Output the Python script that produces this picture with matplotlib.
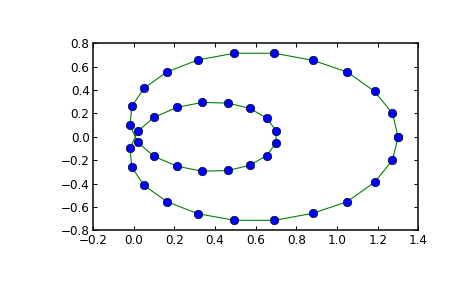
import matplotlib
matplotlib.use("Agg")
import matplotlib.pyplot as plt

# points, in order along the curve
x = [1.300, 1.272, 1.184, 1.050, 0.880, 0.692, 0.495, 0.315, 0.163, 0.050,
     -0.009, -0.018, 0.021, 0.099, 0.212, 0.337, 0.464, 0.571, 0.654, 0.700,
     0.700, 0.654, 0.571, 0.464, 0.337, 0.212, 0.099, 0.021, -0.018, -0.009,
     0.050, 0.163, 0.315, 0.495, 0.692, 0.880, 1.050, 1.184, 1.272, 1.300]
y = [0.000, 0.200, 0.388, 0.554, 0.654, 0.714, 0.714, 0.657, 0.554, 0.414,
     0.260, 0.097, -0.048, -0.166, -0.251, -0.294, -0.288, -0.243, -0.160, -0.051,
     0.051, 0.160, 0.243, 0.288, 0.294, 0.251, 0.166, 0.048, -0.097, -0.260,
     -0.414, -0.554, -0.657, -0.714, -0.714, -0.654, -0.554, -0.388, -0.200, 0.000]

xticks = [-0.2, 0.0, 0.2, 0.4, 0.6, 0.8, 1.0, 1.2, 1.4]
yticks = [-0.8, -0.6, -0.4, -0.2, 0.0, 0.2, 0.4, 0.6, 0.8]

plt.rcParams["font.size"] = 12

fig = plt.figure(figsize=(465 / 72, 288 / 72), dpi=72)
ax = fig.add_axes([0.2, 0.2, 0.7, 0.65])

ax.plot(x, y, color="#008000", linewidth=1.1)
ax.plot(x, y, "o", color="#0000ff", markeredgecolor="black",
        markeredgewidth=0.6, markersize=8.5)

ax.set_xlim(-0.2, 1.4)
ax.set_ylim(-0.8, 0.8)
ax.set_xticks(xticks)
ax.set_yticks(yticks)
ax.tick_params(direction="in", length=4, width=1, top=True, right=True)
for s in ax.spines.values():
    s.set_linewidth(1.5)

fig.savefig("out.png", dpi=72)
